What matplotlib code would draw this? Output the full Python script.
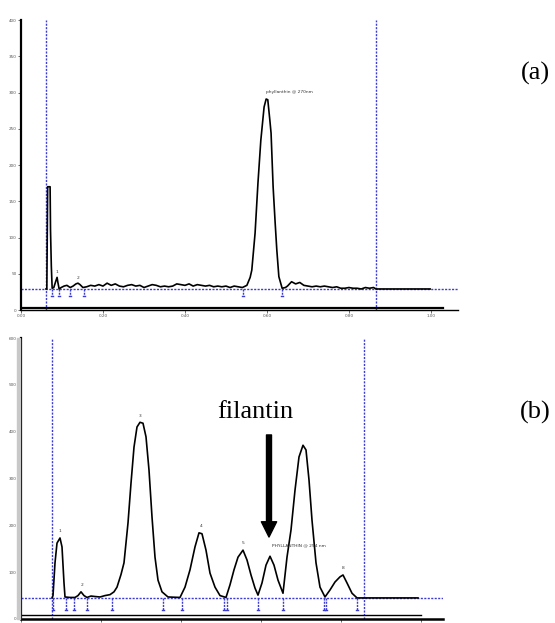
import matplotlib
matplotlib.use("Agg")
import matplotlib.pyplot as plt
from matplotlib.patches import Rectangle

# chromatogram (a): phyllanthin standard
time_a = [0.061, 0.063, 0.065, 0.071, 0.072, 0.074, 0.076, 0.080, 0.085, 0.088, 0.090, 0.093, 0.098, 0.105, 0.112, 0.120, 0.127, 0.134, 0.139, 0.144, 0.151,
          0.16, 0.17, 0.18, 0.19, 0.20, 0.21, 0.22, 0.23, 0.24, 0.25, 0.26, 0.27, 0.28, 0.29, 0.30, 0.31, 0.32, 0.33, 0.34, 0.35,
          0.36, 0.37, 0.38, 0.39, 0.40, 0.41, 0.42, 0.43, 0.44, 0.45, 0.46, 0.47, 0.48, 0.49, 0.50, 0.51, 0.52, 0.53, 0.54,
          0.551, 0.559, 0.563, 0.571, 0.578, 0.585, 0.593, 0.598, 0.602, 0.607, 0.610, 0.615, 0.620, 0.624, 0.629, 0.637,
          0.645, 0.65, 0.66, 0.67, 0.68, 0.69, 0.70, 0.71, 0.72, 0.73, 0.74, 0.75, 0.76, 0.77, 0.78, 0.79, 0.80, 0.81, 0.82, 0.83,
          0.84, 0.85, 0.86, 0.866, 0.998]
abs_a = [29, 29, 170, 170, 110, 60, 30, 31, 40, 45, 38, 29, 31, 33, 34, 31, 33, 36, 37, 35, 31,
         32, 34, 33, 35, 33, 37, 34, 36, 33, 32, 34, 35, 33, 34, 31, 33, 35, 34, 32, 33,
         32, 33, 36, 35, 34, 36, 33, 35, 34, 33, 34, 32, 33, 32, 33, 31, 33, 32, 31,
         34, 45, 55, 106, 175, 234, 280, 291, 290, 262, 244, 170, 120, 83, 46, 30,
         31, 33, 39, 36, 38, 34, 33, 32, 33, 32, 33, 32, 31, 32, 30, 30, 31, 30, 30, 29,
         31, 30, 31, 29, 29]
base_a = 29
window_a = [0.061, 0.866]
marks_a = [0.076, 0.093, 0.120, 0.154, 0.541, 0.637]
lbl_a = ["1", "2", "phyllanthin @ 270nm"]
lbl_a_t = [0.088, 0.139, 0.598]
lbl_a_v = [50, 42, 298]

# chromatogram (b): extract
time_b = [0.0775, 0.080, 0.085, 0.090, 0.0975, 0.1025, 0.1075, 0.110, 0.1225, 0.135,
          0.1425, 0.150, 0.1575, 0.165, 0.175, 0.185, 0.1975, 0.210, 0.2225, 0.2325,
          0.240, 0.250, 0.2575, 0.2675, 0.275, 0.2825, 0.290, 0.2975, 0.305, 0.3125,
          0.320, 0.3275, 0.335, 0.3425, 0.3525, 0.3675, 0.3975, 0.410, 0.4225, 0.435,
          0.445, 0.4525, 0.4625, 0.4725, 0.485, 0.4975, 0.5125, 0.5225, 0.5325, 0.5425,
          0.555, 0.565, 0.575, 0.585, 0.5925, 0.6025, 0.6125, 0.6225, 0.6325, 0.6425,
          0.655, 0.665, 0.675, 0.685, 0.695, 0.705, 0.7125, 0.720, 0.7275, 0.7375,
          0.7475, 0.760, 0.7725, 0.785, 0.7975, 0.805, 0.815, 0.8275, 0.840, 0.9925]
abs_b = [45, 50, 120, 162, 173, 154, 77, 47, 46, 46,
         50, 58, 50, 46, 49, 48, 47, 50, 52, 58,
         68, 95, 120, 205, 290, 367, 410, 420, 418, 389,
         318, 218, 132, 83, 58, 47, 46, 68, 105, 154,
         184, 182, 147, 98, 68, 50, 46, 73, 105, 132,
         147, 126, 94, 66, 51, 77, 115, 134, 115, 83,
         55, 132, 190, 275, 346, 371, 361, 297, 211, 120,
         68, 47, 62, 79, 90, 94, 77, 55, 45, 45]
base_b = 45
window_b = [0.0775, 0.8575]
marks_b = [0.080, 0.1125, 0.1325, 0.165, 0.2275, 0.355, 0.4025, 0.5075, 0.515, 0.5925, 0.655, 0.7575, 0.7625, 0.840]
lbl_b = ["1", "2", "3", "4", "5", "PHYLLANTHIN @ 254 nm", "8"]
lbl_b_t = [0.0975, 0.1525, 0.2975, 0.45, 0.555, 0.6275, 0.805]
lbl_b_v = [183, 68, 430, 194, 157, 152, 104]

x_ticks = [0.0, 0.2, 0.4, 0.6, 0.8, 1.0]
x_labels_a = ["0.00", "0.20", "0.40", "0.60", "0.80", "1.00"]

blue = "#3c3cd2"
W, H = 555, 623
fig = plt.figure(figsize=(W / 100, H / 100), dpi=100)


def panel(px_left, px_right, px_bottom, px_top, xmax, ymax, ystep):
    ax = fig.add_axes([px_left / W, 1 - px_bottom / H, (px_right - px_left) / W, (px_bottom - px_top) / H])
    ax.set_xlim(0, xmax)
    ax.set_ylim(0, ymax)
    for s in ["top", "right"]:
        ax.spines[s].set_visible(False)
    ax.spines["left"].set_linewidth(1.6)
    ax.spines["bottom"].set_linewidth(1.0)
    ax.set_yticks(list(range(0, ymax + 1, ystep)))
    ax.set_xticks(x_ticks)
    ax.tick_params(length=2, width=0.6, labelsize=3, pad=1, colors="#555555")
    return ax


def draw(ax, t, v, base, window, marks, drop):
    ax.axhline(base, color=blue, ls=(0, (1.5, 1)), lw=1.0)
    for w in window:
        ax.axvline(w, color=blue, ls=(0, (1.5, 1)), lw=1.0, clip_on=False)
    for m in marks:
        ax.plot([m, m], [base, drop], color=blue, lw=1.0, ls=(0, (1.5, 0.8)))
        ax.plot([m - 0.003, m + 0.003], [drop, drop], color=blue, lw=1.0)
    ax.plot(t, v, color="black", lw=1.2)


# (a)
ax1 = panel(21, 458, 310, 20, 1.066, 400, 50)
ax1.set_xticklabels(x_labels_a)
draw(ax1, time_a, abs_a, base_a, window_a, marks_a, 19)
ax1.plot([0, 1.029], [3, 3], color="black", lw=1.6)
for s, t, v in zip(lbl_a, lbl_a_t, lbl_a_v):
    ax1.text(t, v, s, fontsize=3.2, color="#333333", ha="left" if len(s) > 2 else "center", va="bottom")

# (b)
ax2 = panel(21, 443, 619, 338, 1.055, 600, 100)
ax2.set_xticklabels([])
draw(ax2, time_b, abs_b, base_b, window_b, marks_b, 19)
ax2.plot([0, 1.0], [8, 8], color="black", lw=1.0)
ax2.spines["bottom"].set_linewidth(1.8)
for s, t, v in zip(lbl_b, lbl_b_t, lbl_b_v):
    ax2.text(t, v, s, fontsize=3.2, color="#333333", ha="left" if len(s) > 2 else "center", va="bottom")
fig.patches.append(Rectangle((17 / W, 1 - 619 / H), 3 / W, 281 / H, transform=fig.transFigure,
                             color="#c8c8c8", zorder=0))

# arrow pointing to filantin peak
ax2.annotate("", xy=(0.62, 175), xytext=(0.62, 393),
             arrowprops=dict(width=3.6, headwidth=11, headlength=11, color="black"))

serif = ["Liberation Serif", "DejaVu Serif"]
fig.text(255 / W, 1 - 418 / H, "filantin", family=serif, fontsize=19, ha="center", va="baseline")
fig.text(535 / W, 1 - 73 / H, "(a)", family=serif, fontsize=19, ha="center", va="center")
fig.text(535 / W, 1 - 412 / H, "(b)", family=serif, fontsize=19, ha="center", va="center")

fig.savefig("out.png", dpi=100)
